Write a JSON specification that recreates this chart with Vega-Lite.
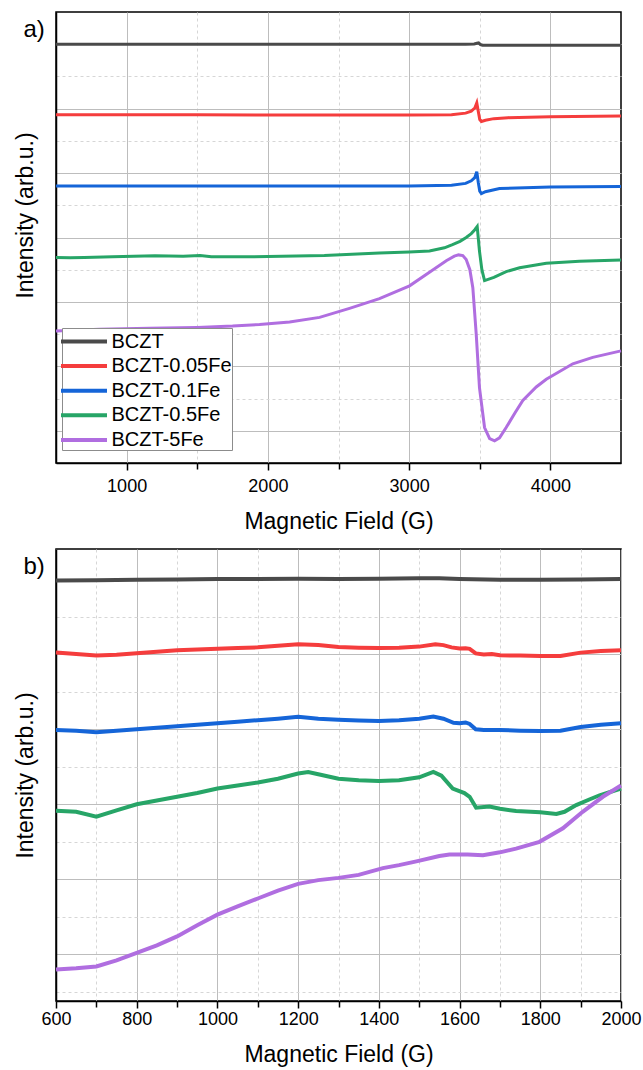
{
"$schema": "https://vega.github.io/schema/vega-lite/v6.json",
"background": "white",
"padding": {"left": 13, "top": 11, "right": 5, "bottom": 2},
"spacing": 14,
"config": {
  "font": "Liberation Sans",
  "view": {"stroke": "black", "strokeWidth": 1.5},
  "axis": {"labelFont": "Liberation Sans", "titleFont": "Liberation Sans", "labelFontSize": 18, "titleFontSize": 23, "titleFontWeight": "normal", "labelColor": "black", "titleColor": "black", "domainColor": "black", "domainWidth": 1.5, "tickColor": "black", "tickWidth": 1.5, "gridColor": "#c4c4c4", "gridWidth": 1, "labelFlush": false, "labelOverlap": false, "format": "d"},
  "title": {"font": "Liberation Sans", "fontSize": 24, "fontWeight": "normal", "color": "black"}
},
"datasets": {
"a": [
{"sample":"BCZT","field":500,"intensity":6.0},{"sample":"BCZT","field":1000,"intensity":6.0},{"sample":"BCZT","field":1500,"intensity":6.0},{"sample":"BCZT","field":2000,"intensity":6.0},{"sample":"BCZT","field":2500,"intensity":6.0},{"sample":"BCZT","field":3000,"intensity":6.0},{"sample":"BCZT","field":3400,"intensity":6.0},{"sample":"BCZT","field":3460,"intensity":6.005},{"sample":"BCZT","field":3480,"intensity":6.015},{"sample":"BCZT","field":3492,"intensity":6.02},{"sample":"BCZT","field":3505,"intensity":5.995},{"sample":"BCZT","field":3520,"intensity":5.985},{"sample":"BCZT","field":3600,"intensity":5.985},{"sample":"BCZT","field":4000,"intensity":5.985},{"sample":"BCZT","field":4500,"intensity":5.985},
{"sample":"BCZT-0.05Fe","field":500,"intensity":4.905},{"sample":"BCZT-0.05Fe","field":1000,"intensity":4.905},{"sample":"BCZT-0.05Fe","field":1500,"intensity":4.905},{"sample":"BCZT-0.05Fe","field":2000,"intensity":4.9},{"sample":"BCZT-0.05Fe","field":2500,"intensity":4.9},{"sample":"BCZT-0.05Fe","field":3000,"intensity":4.9},{"sample":"BCZT-0.05Fe","field":3300,"intensity":4.905},{"sample":"BCZT-0.05Fe","field":3400,"intensity":4.93},{"sample":"BCZT-0.05Fe","field":3440,"intensity":4.96},{"sample":"BCZT-0.05Fe","field":3465,"intensity":5.01},{"sample":"BCZT-0.05Fe","field":3479,"intensity":5.09},{"sample":"BCZT-0.05Fe","field":3490,"intensity":4.95},{"sample":"BCZT-0.05Fe","field":3500,"intensity":4.83},{"sample":"BCZT-0.05Fe","field":3512,"intensity":4.8},{"sample":"BCZT-0.05Fe","field":3540,"intensity":4.82},{"sample":"BCZT-0.05Fe","field":3600,"intensity":4.845},{"sample":"BCZT-0.05Fe","field":3700,"intensity":4.86},{"sample":"BCZT-0.05Fe","field":4000,"intensity":4.875},{"sample":"BCZT-0.05Fe","field":4500,"intensity":4.885},
{"sample":"BCZT-0.1Fe","field":500,"intensity":3.8},{"sample":"BCZT-0.1Fe","field":1000,"intensity":3.8},{"sample":"BCZT-0.1Fe","field":1500,"intensity":3.8},{"sample":"BCZT-0.1Fe","field":2000,"intensity":3.8},{"sample":"BCZT-0.1Fe","field":2500,"intensity":3.8},{"sample":"BCZT-0.1Fe","field":3000,"intensity":3.8},{"sample":"BCZT-0.1Fe","field":3300,"intensity":3.81},{"sample":"BCZT-0.1Fe","field":3400,"intensity":3.84},{"sample":"BCZT-0.1Fe","field":3440,"intensity":3.88},{"sample":"BCZT-0.1Fe","field":3465,"intensity":3.93},{"sample":"BCZT-0.1Fe","field":3479,"intensity":4.02},{"sample":"BCZT-0.1Fe","field":3490,"intensity":3.85},{"sample":"BCZT-0.1Fe","field":3500,"intensity":3.72},{"sample":"BCZT-0.1Fe","field":3512,"intensity":3.68},{"sample":"BCZT-0.1Fe","field":3540,"intensity":3.71},{"sample":"BCZT-0.1Fe","field":3640,"intensity":3.76},{"sample":"BCZT-0.1Fe","field":4000,"intensity":3.785},{"sample":"BCZT-0.1Fe","field":4500,"intensity":3.79},
{"sample":"BCZT-0.5Fe","field":500,"intensity":2.69},{"sample":"BCZT-0.5Fe","field":600,"intensity":2.685},{"sample":"BCZT-0.5Fe","field":700,"intensity":2.69},{"sample":"BCZT-0.5Fe","field":900,"intensity":2.7},{"sample":"BCZT-0.5Fe","field":1200,"intensity":2.715},{"sample":"BCZT-0.5Fe","field":1400,"intensity":2.71},{"sample":"BCZT-0.5Fe","field":1520,"intensity":2.72},{"sample":"BCZT-0.5Fe","field":1600,"intensity":2.7},{"sample":"BCZT-0.5Fe","field":1800,"intensity":2.7},{"sample":"BCZT-0.5Fe","field":2000,"intensity":2.705},{"sample":"BCZT-0.5Fe","field":2400,"intensity":2.72},{"sample":"BCZT-0.5Fe","field":2790,"intensity":2.76},{"sample":"BCZT-0.5Fe","field":3000,"intensity":2.775},{"sample":"BCZT-0.5Fe","field":3144,"intensity":2.79},{"sample":"BCZT-0.5Fe","field":3250,"intensity":2.84},{"sample":"BCZT-0.5Fe","field":3307,"intensity":2.89},{"sample":"BCZT-0.5Fe","field":3360,"intensity":2.94},{"sample":"BCZT-0.5Fe","field":3404,"intensity":3.0},{"sample":"BCZT-0.5Fe","field":3440,"intensity":3.06},{"sample":"BCZT-0.5Fe","field":3465,"intensity":3.12},{"sample":"BCZT-0.5Fe","field":3482,"intensity":3.17},{"sample":"BCZT-0.5Fe","field":3490,"intensity":2.98},{"sample":"BCZT-0.5Fe","field":3498,"intensity":2.79},{"sample":"BCZT-0.5Fe","field":3515,"intensity":2.5},{"sample":"BCZT-0.5Fe","field":3534,"intensity":2.33},{"sample":"BCZT-0.5Fe","field":3600,"intensity":2.38},{"sample":"BCZT-0.5Fe","field":3687,"intensity":2.47},{"sample":"BCZT-0.5Fe","field":3782,"intensity":2.53},{"sample":"BCZT-0.5Fe","field":3971,"intensity":2.6},{"sample":"BCZT-0.5Fe","field":4206,"intensity":2.63},{"sample":"BCZT-0.5Fe","field":4500,"intensity":2.65},
{"sample":"BCZT-5Fe","field":500,"intensity":1.55},{"sample":"BCZT-5Fe","field":808,"intensity":1.575},{"sample":"BCZT-5Fe","field":1162,"intensity":1.59},{"sample":"BCZT-5Fe","field":1500,"intensity":1.605},{"sample":"BCZT-5Fe","field":1750,"intensity":1.625},{"sample":"BCZT-5Fe","field":1941,"intensity":1.65},{"sample":"BCZT-5Fe","field":2154,"intensity":1.69},{"sample":"BCZT-5Fe","field":2366,"intensity":1.76},{"sample":"BCZT-5Fe","field":2578,"intensity":1.9},{"sample":"BCZT-5Fe","field":2790,"intensity":2.05},{"sample":"BCZT-5Fe","field":3003,"intensity":2.25},{"sample":"BCZT-5Fe","field":3144,"intensity":2.46},{"sample":"BCZT-5Fe","field":3263,"intensity":2.64},{"sample":"BCZT-5Fe","field":3320,"intensity":2.71},{"sample":"BCZT-5Fe","field":3350,"intensity":2.73},{"sample":"BCZT-5Fe","field":3380,"intensity":2.72},{"sample":"BCZT-5Fe","field":3404,"intensity":2.66},{"sample":"BCZT-5Fe","field":3430,"intensity":2.5},{"sample":"BCZT-5Fe","field":3451,"intensity":2.22},{"sample":"BCZT-5Fe","field":3475,"intensity":1.5},{"sample":"BCZT-5Fe","field":3498,"intensity":0.67},{"sample":"BCZT-5Fe","field":3534,"intensity":0.05},{"sample":"BCZT-5Fe","field":3570,"intensity":-0.12},{"sample":"BCZT-5Fe","field":3605,"intensity":-0.155},{"sample":"BCZT-5Fe","field":3640,"intensity":-0.11},{"sample":"BCZT-5Fe","field":3687,"intensity":0.05},{"sample":"BCZT-5Fe","field":3750,"intensity":0.28},{"sample":"BCZT-5Fe","field":3805,"intensity":0.47},{"sample":"BCZT-5Fe","field":3900,"intensity":0.68},{"sample":"BCZT-5Fe","field":3971,"intensity":0.8},{"sample":"BCZT-5Fe","field":4159,"intensity":1.04},{"sample":"BCZT-5Fe","field":4300,"intensity":1.14},{"sample":"BCZT-5Fe","field":4500,"intensity":1.24}
],
"b": [
{"sample":"BCZT","field":600,"intensity":4.98},{"sample":"BCZT","field":700,"intensity":4.985},{"sample":"BCZT","field":800,"intensity":4.99},{"sample":"BCZT","field":900,"intensity":4.995},{"sample":"BCZT","field":1000,"intensity":5.0},{"sample":"BCZT","field":1100,"intensity":5.0},{"sample":"BCZT","field":1200,"intensity":5.005},{"sample":"BCZT","field":1300,"intensity":5.0},{"sample":"BCZT","field":1400,"intensity":5.005},{"sample":"BCZT","field":1500,"intensity":5.012},{"sample":"BCZT","field":1550,"intensity":5.01},{"sample":"BCZT","field":1600,"intensity":5.0},{"sample":"BCZT","field":1700,"intensity":4.99},{"sample":"BCZT","field":1800,"intensity":4.99},{"sample":"BCZT","field":1900,"intensity":4.995},{"sample":"BCZT","field":2000,"intensity":5.0},
{"sample":"BCZT-0.05Fe","field":600,"intensity":4.02},{"sample":"BCZT-0.05Fe","field":650,"intensity":4.0},{"sample":"BCZT-0.05Fe","field":700,"intensity":3.98},{"sample":"BCZT-0.05Fe","field":750,"intensity":3.99},{"sample":"BCZT-0.05Fe","field":800,"intensity":4.01},{"sample":"BCZT-0.05Fe","field":850,"intensity":4.03},{"sample":"BCZT-0.05Fe","field":900,"intensity":4.05},{"sample":"BCZT-0.05Fe","field":950,"intensity":4.06},{"sample":"BCZT-0.05Fe","field":1000,"intensity":4.07},{"sample":"BCZT-0.05Fe","field":1050,"intensity":4.08},{"sample":"BCZT-0.05Fe","field":1100,"intensity":4.09},{"sample":"BCZT-0.05Fe","field":1150,"intensity":4.11},{"sample":"BCZT-0.05Fe","field":1200,"intensity":4.13},{"sample":"BCZT-0.05Fe","field":1250,"intensity":4.12},{"sample":"BCZT-0.05Fe","field":1300,"intensity":4.095},{"sample":"BCZT-0.05Fe","field":1350,"intensity":4.085},{"sample":"BCZT-0.05Fe","field":1400,"intensity":4.08},{"sample":"BCZT-0.05Fe","field":1450,"intensity":4.085},{"sample":"BCZT-0.05Fe","field":1500,"intensity":4.1},{"sample":"BCZT-0.05Fe","field":1540,"intensity":4.13},{"sample":"BCZT-0.05Fe","field":1560,"intensity":4.12},{"sample":"BCZT-0.05Fe","field":1580,"intensity":4.09},{"sample":"BCZT-0.05Fe","field":1600,"intensity":4.075},{"sample":"BCZT-0.05Fe","field":1615,"intensity":4.078},{"sample":"BCZT-0.05Fe","field":1625,"intensity":4.07},{"sample":"BCZT-0.05Fe","field":1640,"intensity":4.01},{"sample":"BCZT-0.05Fe","field":1660,"intensity":3.995},{"sample":"BCZT-0.05Fe","field":1680,"intensity":4.0},{"sample":"BCZT-0.05Fe","field":1700,"intensity":3.985},{"sample":"BCZT-0.05Fe","field":1750,"intensity":3.98},{"sample":"BCZT-0.05Fe","field":1800,"intensity":3.975},{"sample":"BCZT-0.05Fe","field":1850,"intensity":3.975},{"sample":"BCZT-0.05Fe","field":1900,"intensity":4.02},{"sample":"BCZT-0.05Fe","field":1950,"intensity":4.04},{"sample":"BCZT-0.05Fe","field":2000,"intensity":4.05},
{"sample":"BCZT-0.1Fe","field":600,"intensity":2.99},{"sample":"BCZT-0.1Fe","field":650,"intensity":2.98},{"sample":"BCZT-0.1Fe","field":700,"intensity":2.96},{"sample":"BCZT-0.1Fe","field":750,"intensity":2.98},{"sample":"BCZT-0.1Fe","field":800,"intensity":3.0},{"sample":"BCZT-0.1Fe","field":850,"intensity":3.02},{"sample":"BCZT-0.1Fe","field":900,"intensity":3.04},{"sample":"BCZT-0.1Fe","field":950,"intensity":3.06},{"sample":"BCZT-0.1Fe","field":1000,"intensity":3.08},{"sample":"BCZT-0.1Fe","field":1050,"intensity":3.1},{"sample":"BCZT-0.1Fe","field":1100,"intensity":3.12},{"sample":"BCZT-0.1Fe","field":1150,"intensity":3.14},{"sample":"BCZT-0.1Fe","field":1200,"intensity":3.165},{"sample":"BCZT-0.1Fe","field":1250,"intensity":3.14},{"sample":"BCZT-0.1Fe","field":1300,"intensity":3.125},{"sample":"BCZT-0.1Fe","field":1350,"intensity":3.115},{"sample":"BCZT-0.1Fe","field":1400,"intensity":3.11},{"sample":"BCZT-0.1Fe","field":1450,"intensity":3.12},{"sample":"BCZT-0.1Fe","field":1500,"intensity":3.14},{"sample":"BCZT-0.1Fe","field":1535,"intensity":3.17},{"sample":"BCZT-0.1Fe","field":1560,"intensity":3.14},{"sample":"BCZT-0.1Fe","field":1585,"intensity":3.085},{"sample":"BCZT-0.1Fe","field":1600,"intensity":3.08},{"sample":"BCZT-0.1Fe","field":1615,"intensity":3.09},{"sample":"BCZT-0.1Fe","field":1625,"intensity":3.07},{"sample":"BCZT-0.1Fe","field":1640,"intensity":3.0},{"sample":"BCZT-0.1Fe","field":1660,"intensity":2.99},{"sample":"BCZT-0.1Fe","field":1700,"intensity":2.99},{"sample":"BCZT-0.1Fe","field":1750,"intensity":2.98},{"sample":"BCZT-0.1Fe","field":1800,"intensity":2.975},{"sample":"BCZT-0.1Fe","field":1850,"intensity":2.98},{"sample":"BCZT-0.1Fe","field":1900,"intensity":3.03},{"sample":"BCZT-0.1Fe","field":1950,"intensity":3.06},{"sample":"BCZT-0.1Fe","field":2000,"intensity":3.08},
{"sample":"BCZT-0.5Fe","field":600,"intensity":1.915},{"sample":"BCZT-0.5Fe","field":650,"intensity":1.9},{"sample":"BCZT-0.5Fe","field":700,"intensity":1.835},{"sample":"BCZT-0.5Fe","field":750,"intensity":1.92},{"sample":"BCZT-0.5Fe","field":800,"intensity":2.0},{"sample":"BCZT-0.5Fe","field":850,"intensity":2.05},{"sample":"BCZT-0.5Fe","field":900,"intensity":2.1},{"sample":"BCZT-0.5Fe","field":950,"intensity":2.15},{"sample":"BCZT-0.5Fe","field":1000,"intensity":2.21},{"sample":"BCZT-0.5Fe","field":1050,"intensity":2.25},{"sample":"BCZT-0.5Fe","field":1100,"intensity":2.29},{"sample":"BCZT-0.5Fe","field":1150,"intensity":2.34},{"sample":"BCZT-0.5Fe","field":1200,"intensity":2.41},{"sample":"BCZT-0.5Fe","field":1225,"intensity":2.43},{"sample":"BCZT-0.5Fe","field":1250,"intensity":2.4},{"sample":"BCZT-0.5Fe","field":1300,"intensity":2.34},{"sample":"BCZT-0.5Fe","field":1350,"intensity":2.32},{"sample":"BCZT-0.5Fe","field":1400,"intensity":2.31},{"sample":"BCZT-0.5Fe","field":1450,"intensity":2.32},{"sample":"BCZT-0.5Fe","field":1500,"intensity":2.36},{"sample":"BCZT-0.5Fe","field":1535,"intensity":2.43},{"sample":"BCZT-0.5Fe","field":1555,"intensity":2.38},{"sample":"BCZT-0.5Fe","field":1583,"intensity":2.21},{"sample":"BCZT-0.5Fe","field":1612,"intensity":2.15},{"sample":"BCZT-0.5Fe","field":1625,"intensity":2.1},{"sample":"BCZT-0.5Fe","field":1641,"intensity":1.955},{"sample":"BCZT-0.5Fe","field":1674,"intensity":1.97},{"sample":"BCZT-0.5Fe","field":1700,"intensity":1.94},{"sample":"BCZT-0.5Fe","field":1740,"intensity":1.91},{"sample":"BCZT-0.5Fe","field":1800,"intensity":1.895},{"sample":"BCZT-0.5Fe","field":1840,"intensity":1.87},{"sample":"BCZT-0.5Fe","field":1860,"intensity":1.9},{"sample":"BCZT-0.5Fe","field":1889,"intensity":1.99},{"sample":"BCZT-0.5Fe","field":1920,"intensity":2.06},{"sample":"BCZT-0.5Fe","field":1947,"intensity":2.12},{"sample":"BCZT-0.5Fe","field":2000,"intensity":2.21},
{"sample":"BCZT-5Fe","field":600,"intensity":-0.2},{"sample":"BCZT-5Fe","field":650,"intensity":-0.185},{"sample":"BCZT-5Fe","field":700,"intensity":-0.16},{"sample":"BCZT-5Fe","field":750,"intensity":-0.08},{"sample":"BCZT-5Fe","field":800,"intensity":0.02},{"sample":"BCZT-5Fe","field":850,"intensity":0.12},{"sample":"BCZT-5Fe","field":900,"intensity":0.24},{"sample":"BCZT-5Fe","field":950,"intensity":0.39},{"sample":"BCZT-5Fe","field":1000,"intensity":0.53},{"sample":"BCZT-5Fe","field":1050,"intensity":0.64},{"sample":"BCZT-5Fe","field":1100,"intensity":0.745},{"sample":"BCZT-5Fe","field":1150,"intensity":0.85},{"sample":"BCZT-5Fe","field":1200,"intensity":0.94},{"sample":"BCZT-5Fe","field":1250,"intensity":0.99},{"sample":"BCZT-5Fe","field":1300,"intensity":1.02},{"sample":"BCZT-5Fe","field":1350,"intensity":1.06},{"sample":"BCZT-5Fe","field":1410,"intensity":1.15},{"sample":"BCZT-5Fe","field":1450,"intensity":1.19},{"sample":"BCZT-5Fe","field":1493,"intensity":1.24},{"sample":"BCZT-5Fe","field":1550,"intensity":1.31},{"sample":"BCZT-5Fe","field":1575,"intensity":1.33},{"sample":"BCZT-5Fe","field":1620,"intensity":1.33},{"sample":"BCZT-5Fe","field":1658,"intensity":1.32},{"sample":"BCZT-5Fe","field":1700,"intensity":1.36},{"sample":"BCZT-5Fe","field":1740,"intensity":1.41},{"sample":"BCZT-5Fe","field":1798,"intensity":1.5},{"sample":"BCZT-5Fe","field":1856,"intensity":1.68},{"sample":"BCZT-5Fe","field":1905,"intensity":1.9},{"sample":"BCZT-5Fe","field":1955,"intensity":2.1},{"sample":"BCZT-5Fe","field":2000,"intensity":2.25}
]
},
"resolve": {"scale": {"color": "independent"}},
"vconcat": [
{
  "width": 565, "height": 451,
  "title": {"text": "a)", "anchor": "start", "frame": "bounds", "offset": -30, "dx": 9},
  "resolve": {"axis": {"x": "independent", "y": "independent"}},
  "layer": [
    {
      "data": {"name": "a"},
      "mark": {"type": "point", "opacity": 0},
      "encoding": {
        "x": {"field": "field", "type": "quantitative", "scale": {"domain": [500, 4500], "nice": false, "zero": false},
              "axis": {"orient": "bottom", "values": [1500, 2500, 3500], "labels": false, "domain": false, "tickSize": 6, "title": null, "grid": true, "gridDash": [3, 3], "gridColor": "#d6d6d6"}},
        "y": {"field": "intensity", "type": "quantitative", "scale": {"domain": [-0.5, 6.5], "nice": false, "zero": false},
              "axis": {"orient": "left", "values": [0.5, 1.5, 2.5, 3.5, 4.5, 5.5], "labels": false, "ticks": false, "domain": false, "title": null, "grid": true, "gridDash": [3, 3], "gridColor": "#d6d6d6"}}
      }
    },
    {
      "data": {"name": "a"},
      "mark": {"type": "line", "strokeWidth": 3},
      "encoding": {
        "x": {"field": "field", "type": "quantitative", "scale": {"domain": [500, 4500], "nice": false, "zero": false},
              "axis": {"orient": "bottom", "values": [1000, 2000, 3000, 4000], "tickSize": 7, "labelPadding": 7, "title": "Magnetic Field (G)", "titlePadding": 15, "grid": true, "gridDash": [], "gridColor": "#bdbdbd"}},
        "y": {"field": "intensity", "type": "quantitative", "scale": {"domain": [-0.5, 6.5], "nice": false, "zero": false},
              "axis": {"orient": "left", "values": [0, 1, 2, 3, 4, 5, 6], "labels": false, "ticks": false, "title": "Intensity (arb.u.)", "titlePadding": 18.5, "titleY": 203, "grid": true, "gridDash": [], "gridColor": "#bdbdbd"}},
        "color": {"field": "sample", "type": "nominal",
          "scale": {"domain": ["BCZT", "BCZT-0.05Fe", "BCZT-0.1Fe", "BCZT-0.5Fe", "BCZT-5Fe"], "range": ["#4a4a4a", "#f53d3d", "#1565d8", "#27a567", "#b06ee0"]},
          "legend": {"orient": "none", "legendX": 6, "legendY": 316, "title": null, "symbolType": "M-2,0H2", "symbolSize": 529, "symbolStrokeWidth": 4, "symbolOffset": 8.5, "labelOffset": 14, "labelFontSize": 20, "labelFont": "Liberation Sans", "labelColor": "black", "strokeColor": "#8c8c8c", "fillColor": "white", "padding": 0, "rowPadding": 0.6, "labelLimit": 300}}
      }
    }
  ]
},
{
  "width": 565, "height": 452,
  "title": {"text": "b)", "anchor": "start", "frame": "bounds", "offset": -30, "dx": 9},
  "resolve": {"axis": {"x": "independent", "y": "independent"}},
  "layer": [
    {
      "data": {"name": "b"},
      "mark": {"type": "point", "opacity": 0},
      "encoding": {
        "x": {"field": "field", "type": "quantitative", "scale": {"domain": [600, 2000], "nice": false, "zero": false},
              "axis": {"orient": "bottom", "values": [700, 900, 1100, 1300, 1500, 1700, 1900], "labels": false, "domain": false, "tickSize": 6, "title": null, "grid": true, "gridDash": [3, 3], "gridColor": "#d6d6d6"}},
        "y": {"field": "intensity", "type": "quantitative", "scale": {"domain": [-0.62, 5.4], "nice": false, "zero": false},
              "axis": {"orient": "left", "values": [-0.5, 0.5, 1.5, 2.5, 3.5, 4.5], "labels": false, "ticks": false, "domain": false, "title": null, "grid": true, "gridDash": [3, 3], "gridColor": "#d6d6d6"}}
      }
    },
    {
      "data": {"name": "b"},
      "mark": {"type": "line", "strokeWidth": 4},
      "encoding": {
        "x": {"field": "field", "type": "quantitative", "scale": {"domain": [600, 2000], "nice": false, "zero": false},
              "axis": {"orient": "bottom", "values": [600, 800, 1000, 1200, 1400, 1600, 1800, 2000], "tickSize": 7, "labelPadding": 2, "title": "Magnetic Field (G)", "titlePadding": 15, "grid": true, "gridDash": [], "gridColor": "#bdbdbd"}},
        "y": {"field": "intensity", "type": "quantitative", "scale": {"domain": [-0.62, 5.4], "nice": false, "zero": false},
              "axis": {"orient": "left", "values": [0, 1, 2, 3, 4, 5], "labels": false, "ticks": false, "title": "Intensity (arb.u.)", "titlePadding": 18.5, "grid": true, "gridDash": [], "gridColor": "#bdbdbd"}},
        "color": {"field": "sample", "type": "nominal",
          "scale": {"domain": ["BCZT", "BCZT-0.05Fe", "BCZT-0.1Fe", "BCZT-0.5Fe", "BCZT-5Fe"], "range": ["#4a4a4a", "#f53d3d", "#1565d8", "#27a567", "#b06ee0"]},
          "legend": null}
      }
    }
  ]
}
]
}
